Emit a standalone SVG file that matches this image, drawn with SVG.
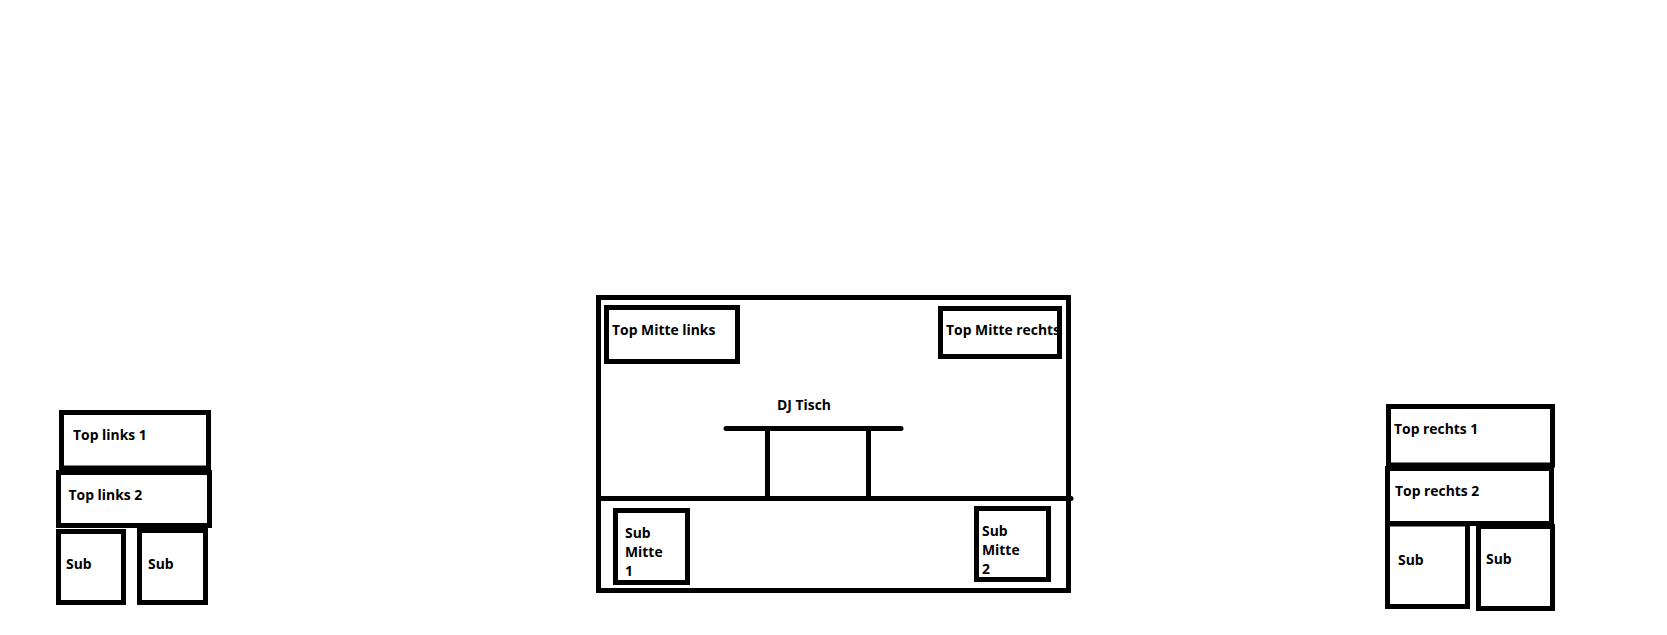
<svg xmlns="http://www.w3.org/2000/svg" width="1667" height="635" viewBox="0 0 1667 635">
<style>
rect,line{fill:none;stroke:#000;stroke-width:5}
line.r{stroke-linecap:round}
text{font-family:"Open Sans","Noto Sans","Liberation Sans",sans-serif;font-weight:700;font-size:13.9px;fill:#000}
</style>
<rect width="1667" height="635" style="fill:#fff;stroke:none"/>
<g id="buehne"><rect x="598.5" y="297.5" width="470" height="293"/></g>
<g id="connectors">
<line class="r" x1="600" y1="498.5" x2="1071" y2="498.5"/>
<line class="r" x1="726" y1="428.5" x2="901" y2="428.5"/>
<line x1="767.5" y1="431" x2="767.5" y2="497"/>
<line x1="868.5" y1="431" x2="868.5" y2="497"/>
</g>
<g id="dj-tisch"><text x="777" y="410">DJ Tisch</text></g>
<g id="top-links-1"><text x="73" y="440">Top links 1</text><rect x="61.5" y="412.5" width="147" height="55.5"/></g>
<g id="top-links-2"><text x="68.5" y="500">Top links 2</text><rect x="58.5" y="472.5" width="151" height="53"/></g>
<g id="sub-links-1"><text x="66" y="569">Sub</text><rect x="58.5" y="531.5" width="65" height="71"/></g>
<g id="sub-links-2"><text x="148" y="569">Sub</text><rect x="139.5" y="530.5" width="66" height="72"/></g>
<g id="top-mitte-links"><text x="612" y="335">Top Mitte links</text><rect x="606.5" y="307.5" width="131" height="54"/></g>
<g id="top-mitte-rechts"><text x="946" y="335">Top Mitte rechts</text><rect x="940.5" y="308.5" width="119" height="48"/></g>
<g id="sub-mitte-1"><text x="625" y="538">Sub</text><text x="625" y="557">Mitte</text><text x="625" y="576">1</text><rect x="615.5" y="510.5" width="72" height="72"/></g>
<g id="sub-mitte-2"><text x="982" y="536">Sub</text><text x="982" y="555">Mitte</text><text x="982" y="574">2</text><rect x="976.5" y="508.5" width="72" height="71"/></g>
<g id="top-rechts-1"><text x="1394" y="434">Top rechts 1</text><rect x="1388.5" y="406.5" width="164" height="58.5"/></g>
<g id="top-rechts-2"><text x="1395" y="496">Top rechts 2</text><rect x="1387.5" y="468.5" width="164" height="55"/></g>
<g id="sub-rechts-1"><text x="1398" y="565">Sub</text><rect x="1387.5" y="524" width="80" height="82.5"/></g>
<g id="sub-rechts-2"><text x="1486" y="564">Sub</text><rect x="1478.5" y="526.5" width="74" height="82"/></g>
</svg>
